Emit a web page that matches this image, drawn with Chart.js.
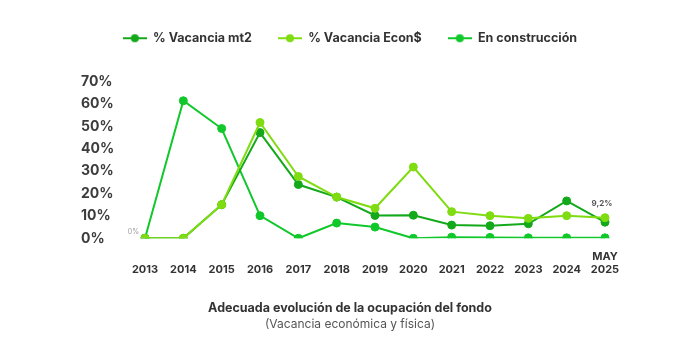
<!DOCTYPE html>
<html>
<head>
<meta charset="utf-8">
<script src="https://cdn.jsdelivr.net/npm/chart.js@4.4.1/dist/chart.umd.min.js"></script>
<style>
  html, body { margin: 0; padding: 0; background: #ffffff; }
  #wrap { width: 700px; height: 358px; }
</style>
</head>
<body>
<div id="wrap"><canvas id="c" width="700" height="358"></canvas></div>
<script>
// ---- Data ----
const categories = ['2013', '2014', '2015', '2016', '2017', '2018', '2019', '2020', '2021', '2022', '2023', '2024', '2025'];
const categoryPrefix = ['', '', '', '', '', '', '', '', '', '', '', '', 'MAY'];
const vacanciaMt2 = [0, 0, 15, 47.2, 24, 18.4, 10.2, 10.3, 5.9, 5.6, 6.5, 16.7, 7.2];
const vacanciaEcon = [0, 0, 15, 51.7, 27.6, 18.4, 13.4, 31.8, 11.9, 10.1, 8.9, 10.1, 9.2];
const enConstruccion = [0, 61.4, 49, 10.1, 0, 6.8, 5, 0, 0.5, 0.4, 0.2, 0.2, 0.2];
const yTicks = [0, 10, 20, 30, 40, 50, 60, 70];
const seriesNames = ['% Vacancia mt2', '% Vacancia Econ$', 'En construcción'];
const titleText = 'Adecuada evolución de la ocupación del fondo';
const subtitleText = '(Vacancia económica y física)';

const FONT = "Inter, 'Open Sans', sans-serif";
const colors = ['#13a91a', '#7fdc10', '#10c82a'];

function legendMarker(color) {
  const c = document.createElement('canvas');
  c.width = 24; c.height = 10;
  const g = c.getContext('2d');
  g.strokeStyle = color; g.lineWidth = 2;
  g.beginPath(); g.moveTo(0, 5); g.lineTo(24, 5); g.stroke();
  g.fillStyle = color;
  g.beginPath(); g.arc(12, 5, 4, 0, Math.PI * 2); g.fill();
  return c;
}
const markers = colors.map(legendMarker);

const legendGap = {
  id: 'legendGap',
  beforeInit(chart) {
    const orig = chart.legend.fit;
    chart.legend.fit = function () {
      orig.call(this);
      this.height += 27;
    };
  }
};

const valueLabels = {
  id: 'valueLabels',
  afterDatasetsDraw(chart) {
    const ctx = chart.ctx;
    const meta = chart.getDatasetMeta(1);
    const data = chart.data.datasets[1].data;
    ctx.save();
    const p0 = meta.data[0];
    ctx.font = "400 7px " + FONT;
    ctx.fillStyle = '#9a9a9a';
    ctx.textAlign = 'right';
    ctx.textBaseline = 'middle';
    ctx.fillText(String(data[0]).replace('.', ',') + '%', p0.x - 6, p0.y - 6);
    const last = data.length - 1;
    const pl = meta.data[last];
    ctx.font = "700 8px " + FONT;
    ctx.fillStyle = '#555555';
    ctx.textAlign = 'center';
    ctx.textBaseline = 'bottom';
    ctx.fillText(data[last].toFixed(1).replace('.', ',') + '%', pl.x - 3, pl.y - 10);
    ctx.restore();
  }
};

const mkDs = (label, data, color, order) => ({
  label, data, order,
  borderColor: color,
  backgroundColor: color,
  pointBackgroundColor: color,
  pointBorderColor: color,
  borderWidth: 2,
  pointRadius: 4,
  pointBorderWidth: 1,
  pointHoverRadius: 4,
  tension: 0,
  fill: false,
  yAxisID: 'y'
});

new Chart(document.getElementById('c'), {
  type: 'line',
  data: {
    labels: categories.map((c, i) => [categoryPrefix[i], c]),
    datasets: [
      mkDs(seriesNames[0], vacanciaMt2, colors[0], 1),
      mkDs(seriesNames[1], vacanciaEcon, colors[1], 0),
      mkDs(seriesNames[2], enConstruccion, colors[2], 2)
    ]
  },
  options: {
    responsive: false,
    animation: false,
    layout: { padding: { left: 81, right: 81, top: 6, bottom: 26 } },
    plugins: {
      legend: {
        position: 'top',
        align: 'center',
        labels: {
          usePointStyle: true,
          pointStyleWidth: 24,
          padding: 26,
          color: '#333333',
          font: { family: FONT, size: 12.5, weight: '700' },
          sort: (a, b) => a.datasetIndex - b.datasetIndex,
          generateLabels(chart) {
            const items = Chart.defaults.plugins.legend.labels.generateLabels(chart);
            items.forEach(it => { it.pointStyle = markers[it.datasetIndex]; });
            return items;
          }
        }
      },
      subtitle: {
        display: true,
        position: 'bottom',
        text: titleText,
        color: '#333333',
        font: { family: FONT, size: 12.5, weight: '700' },
        padding: { top: 21, bottom: 2 }
      },
      title: {
        display: true,
        position: 'bottom',
        text: subtitleText,
        color: '#555555',
        font: { family: FONT, size: 12, weight: '400' },
        padding: { top: 0, bottom: 0 }
      },
      tooltip: { enabled: false }
    },
    scales: {
      x: {
        offset: false,
        grid: { display: false },
        border: { display: false },
        ticks: {
          color: '#333333',
          font: { family: FONT, size: 11, weight: '700', lineHeight: 1.15 },
          padding: 4,
          maxRotation: 0,
          autoSkip: false
        }
      },
      y: {
        min: 0,
        max: 70,
        afterBuildTicks(scale) { scale.ticks = yTicks.map(v => ({ value: v })); },
        afterFit(scale) { scale.width = 64; },
        grid: { display: false },
        border: { display: false },
        ticks: {
          color: '#3c3c3c',
          crossAlign: 'far',
          font: { family: FONT, size: 14, weight: '700' },
          callback: v => v + '%'
        }
      },
      y2: {
        position: 'right',
        min: 0,
        max: 70,
        afterFit(scale) { scale.width = 14; },
        grid: { display: false },
        border: { display: false },
        ticks: { display: false }
      }
    }
  },
  plugins: [legendGap, valueLabels]
});
</script>
</body>
</html>
